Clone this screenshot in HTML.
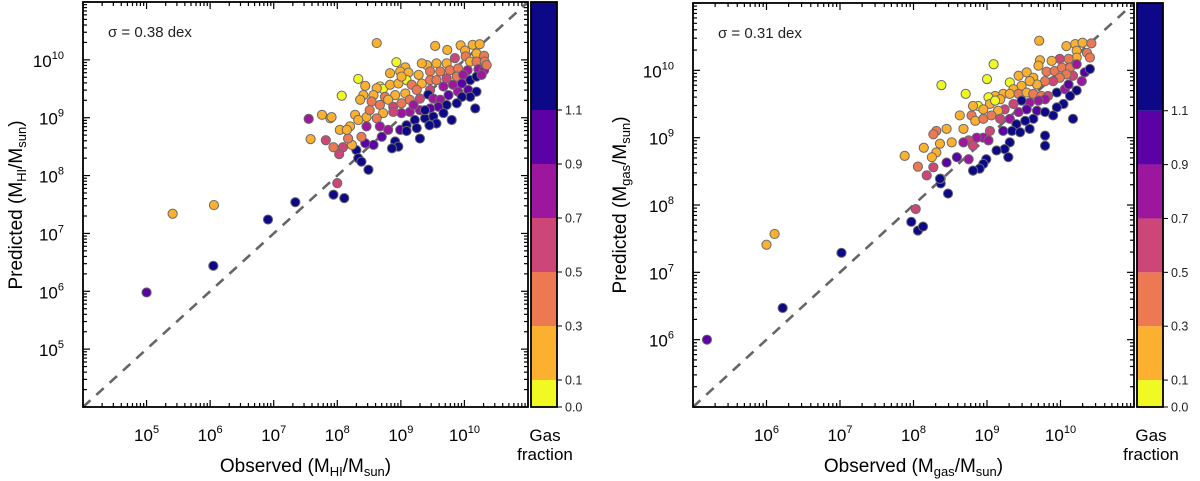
<!DOCTYPE html>
<html><head><meta charset="utf-8"><title>Predicted vs Observed gas mass</title>
<style>
html,body{margin:0;padding:0;background:#fff;}
svg{display:block;font-family:"Liberation Sans",Arial,sans-serif;}
</style></head>
<body>
<svg id="fig" width="1200" height="481" viewBox="0 0 1200 481"></svg>
<script>
// ---- Data (log10 masses) ----
const hiObs = [5.0,5.41,6.06,6.05,6.91,7.34,7.94,8.0,8.11,7.55,7.76,7.58,7.82,7.89,
8.62,9.54,9.73,9.94,10.13,10.24,10.01,10.19,10.31,9.85,10.02,10.09,10.19,10.32,9.72,9.56,9.41,9.33,8.93,9.07,8.99,9.12,8.83,9.28,9.46,9.62,9.77,9.90,10.05,10.22,10.31,10.35,
8.33,8.44,8.67,8.72,8.62,8.83,8.96,9.09,9.01,9.17,9.33,9.46,9.56,9.72,9.88,9.98,10.09,10.19,10.27,9.96,9.82,9.67,9.46,9.25,9.07,8.91,8.75,8.57,8.41,8.07,
8.36,8.54,8.67,8.80,8.88,9.01,9.14,9.30,9.43,9.51,9.62,9.75,9.90,10.06,10.19,10.09,9.96,9.88,9.72,9.59,9.46,9.30,9.14,9.01,8.88,8.72,8.62,8.46,8.28,8.20,8.33,8.04,7.91,
8.46,8.67,8.80,8.99,9.09,9.22,9.38,9.51,9.67,9.80,10.17,9.25,9.30,9.09,8.91,8.96,8.86,8.70,8.57,8.44,8.38,8.30,8.33,8.38,8.49,8.23,8.17,8.09,8.03,7.94,8.15,8.51,9.20,9.56,9.45,9.38];
const hiPred = [5.98,7.34,7.49,6.44,7.24,7.54,7.67,7.87,7.61,8.98,9.05,8.63,8.61,8.99,
10.29,10.24,10.17,10.25,10.26,10.27,10.16,10.11,10.07,10.03,10.06,9.97,9.97,9.97,9.94,9.94,9.91,9.94,9.96,9.87,9.80,9.78,9.77,9.74,9.80,9.80,9.82,9.85,9.82,9.84,9.82,9.91,
9.67,9.55,9.54,9.50,9.51,9.57,9.59,9.65,9.71,9.57,9.59,9.65,9.65,9.68,9.71,9.74,9.65,9.71,9.74,9.59,9.57,9.54,9.48,9.48,9.42,9.39,9.36,9.39,9.39,9.38,
9.31,9.28,9.22,9.31,9.19,9.25,9.31,9.33,9.40,9.33,9.31,9.39,9.45,9.48,9.45,9.36,9.36,9.25,9.22,9.19,9.16,9.13,9.10,9.08,9.10,9.08,8.99,9.01,9.05,8.85,8.96,8.79,9.01,
8.85,8.85,8.79,8.79,8.87,8.96,8.99,9.02,9.08,8.96,9.16,8.82,8.64,8.77,8.59,8.50,8.47,8.67,8.53,8.56,8.67,8.44,8.30,8.24,8.10,8.53,8.64,8.49,8.37,8.49,8.79,9.13,9.22,8.90,8.87,9.13];
const hiFrac = [1.0,0.2,0.2,1.3,1.3,1.3,1.3,0.6,1.3,0.8,0.2,0.2,0.6,0.2,
0.2,0.2,0.2,0.2,0.2,0.2,0.2,0.2,0.4,0.6,0.4,0.2,0.4,0.4,0.2,0.2,0.2,0.2,0.05,0.2,0.2,0.2,0.2,0.2,0.4,0.4,0.4,0.4,0.8,0.8,0.8,0.4,
0.05,0.2,0.05,0.05,0.2,0.2,0.2,0.05,0.2,0.4,0.2,0.4,0.4,0.6,0.4,0.8,1.3,1.3,0.8,1.0,0.8,0.8,0.6,0.4,0.2,0.2,0.4,0.2,0.2,0.05,
0.2,0.4,0.4,0.2,0.6,0.4,0.4,0.6,1.3,0.8,0.8,1.0,0.8,1.0,1.3,1.3,1.3,1.3,1.3,1.0,1.0,0.8,0.8,0.8,0.6,0.2,0.4,0.2,0.2,0.2,0.2,0.2,0.2,
0.8,0.8,0.8,1.0,1.3,1.3,1.3,1.3,1.3,1.3,1.3,1.3,1.3,1.3,1.3,1.3,1.3,1.0,1.0,1.0,0.4,1.3,1.3,1.3,1.3,0.2,0.4,0.6,0.6,0.4,0.2,0.4,0.8,1.3,1.3,1.3];

const gasObs = [5.19,6.0,6.11,6.22,7.02,7.97,8.06,8.13,8.03,8.47,8.37,8.37,7.88,8.06,8.18,8.14,
9.71,10.08,10.20,10.30,10.42,10.22,10.36,10.22,10.40,10.11,9.99,9.88,9.72,9.70,9.09,9.00,8.71,8.38,9.31,9.43,9.54,9.63,9.81,9.92,10.02,10.13,10.22,10.33,10.40,10.29,
10.17,10.08,9.99,9.90,9.79,9.68,9.58,9.47,9.36,9.22,9.11,9.02,8.88,9.18,9.31,9.43,9.54,9.63,9.74,9.83,9.95,10.06,10.11,10.22,10.13,10.04,9.95,9.90,10.17,9.79,
9.70,9.58,9.47,9.36,9.24,9.15,9.04,8.95,8.81,8.79,8.84,8.95,9.06,9.18,9.31,9.43,9.54,9.68,9.79,9.63,9.52,9.40,9.58,9.34,9.22,9.45,9.79,9.79,9.31,9.24,
9.13,9.29,9.04,8.95,8.86,8.75,8.68,8.81,9.02,8.68,8.63,8.52,8.45,8.31,8.27,8.36,8.31,8.25,8.59,8.45,8.75,8.27,8.99,8.95,8.90,8.81,8.36,9.11];
const gasPred = [6.0,7.41,7.57,6.47,7.29,7.75,7.62,7.68,7.94,8.17,8.32,8.39,8.73,8.57,8.44,8.85,
10.44,10.36,10.39,10.41,10.40,10.29,10.26,10.19,10.19,10.17,10.17,10.14,10.15,10.07,10.09,9.87,9.65,9.78,9.82,9.92,9.97,9.89,9.98,9.99,10.04,10.04,10.09,9.97,10.02,9.84,
9.92,9.94,9.89,9.84,9.84,9.79,9.84,9.77,9.72,9.65,9.62,9.60,9.47,9.57,9.65,9.65,9.67,9.65,9.62,9.62,9.67,9.72,9.79,9.70,9.62,9.50,9.45,9.33,9.28,9.57,
9.55,9.52,9.55,9.50,9.42,9.40,9.50,9.42,9.47,9.33,9.25,9.28,9.33,9.28,9.28,9.38,9.42,9.40,9.38,9.28,9.25,9.20,9.13,9.10,9.10,9.08,9.03,8.88,8.93,8.83,
8.81,8.71,9.10,9.00,9.00,8.96,8.93,8.88,8.96,9.13,9.33,8.93,9.13,9.10,9.05,8.91,8.78,8.71,8.71,8.63,8.68,8.56,8.68,8.61,8.54,8.51,8.39,9.55];
const gasFrac = [1.0,0.2,0.2,1.3,1.3,1.3,1.3,1.3,0.6,1.3,1.3,1.3,0.2,0.4,0.6,0.2,
0.2,0.2,0.2,0.2,0.4,0.2,0.4,0.2,0.4,0.4,0.6,0.2,0.2,0.2,0.05,0.05,0.05,0.05,0.05,0.2,0.2,0.2,0.4,0.4,0.4,0.4,0.8,1.0,1.3,0.8,
0.6,0.4,0.4,0.6,0.4,0.2,0.2,0.2,0.2,0.2,0.2,0.05,0.05,0.2,0.2,0.4,0.2,0.4,0.4,0.6,1.3,0.8,1.0,1.3,1.3,1.3,1.3,1.3,1.3,0.8,
0.8,0.8,1.3,0.6,0.6,0.2,0.2,0.2,0.2,0.4,0.2,0.4,0.4,0.6,0.8,0.8,1.0,1.0,1.3,1.3,1.3,1.3,1.3,1.3,1.0,1.3,1.3,1.3,1.3,1.3,
1.3,1.3,0.6,0.8,0.8,0.6,0.8,0.6,0.8,0.2,0.2,0.2,0.2,0.4,0.4,0.2,0.2,0.2,1.0,1.0,0.8,0.6,1.3,1.3,1.3,1.3,1.3,0.05];

const cbBounds = [0.0,0.1,0.3,0.5,0.7,0.9,1.1,1.5];
const cbColors = ["#f0f921","#fcb02f","#ed7953","#cc4778","#9c179e","#5c01a6","#0d0887"];
const cbTicks = [0.0,0.1,0.3,0.5,0.7,0.9,1.1];

const NS = "http://www.w3.org/2000/svg";
const svg = document.getElementById("fig");
function mk(tag, attrs, parent) {
  const e = document.createElementNS(NS, tag);
  for (const k in attrs) e.setAttribute(k, attrs[k]);
  (parent || svg).appendChild(e);
  return e;
}
function colorOf(f) {
  for (let i = 0; i < cbColors.length; i++) if (f < cbBounds[i + 1]) return cbColors[i];
  return cbColors[cbColors.length - 1];
}

function panel(cfg) {
  const g = mk("g", {});
  
  
  const {x0, x1, y0, y1, lo, hiX, loY, hiY} = cfg;
  const sx = v => x0 + (v - lo) / (hiX - lo) * (x1 - x0);
  const sy = v => y1 - (v - loY) / (hiY - loY) * (y1 - y0);

  const tg = mk("g", {stroke: "#000", "stroke-width": 1.2}, g);
  
  
  for (let d = Math.floor(lo); d <= hiX; d++) {
    for (let k = 1; k <= 9; k++) {
      const v = d + Math.log10(k);
      if (v < lo - 1e-6 || v > hiX + 1e-6) continue;
      const L = k === 1 ? 7 : 4, x = sx(v);
      mk("line", {x1: x, x2: x, y1: y1, y2: y1 - L}, tg);
      mk("line", {x1: x, x2: x, y1: y0, y2: y0 + L}, tg);
    }
  }
  for (let d = Math.floor(loY); d <= hiY; d++) {
    for (let k = 1; k <= 9; k++) {
      const v = d + Math.log10(k);
      if (v < loY - 1e-6 || v > hiY + 1e-6) continue;
      const L = k === 1 ? 7 : 4, y = sy(v);
      mk("line", {x1: x0, x2: x0 + L, y1: y, y2: y}, tg);
      mk("line", {x1: x1, x2: x1 - L, y1: y, y2: y}, tg);
    }
  }
  cfg.xLabels.forEach(d => {
    const t = mk("text", {x: sx(d), y: 441, "text-anchor": "middle", "font-size": 17}, g);
    
    
    mk("tspan", {}, t).textContent = "10";
    mk("tspan", {dy: -8, "font-size": 11}, t).textContent = String(d);
  });
  cfg.yLabels.forEach(d => {
    const t = mk("text", {x: x0 - 19, y: sy(d) + 7, "text-anchor": "end", "font-size": 17}, g);
    
    
    mk("tspan", {}, t).textContent = "10";
    mk("tspan", {dy: -8, "font-size": 11}, t).textContent = String(d);
  });

  const a = Math.max(lo, loY), b = Math.min(hiX, hiY);
  const ln = mk("line", {x1: sx(a), y1: sy(a), x2: sx(b), y2: sy(b), stroke: "#666", "stroke-width": 2.6, "stroke-dasharray": "10,8"}, g);
  
  

  const pg = mk("g", {stroke: "#6a6a6a", "stroke-width": 1}, g);
  
  
  for (let i = 0; i < cfg.obs.length; i++) {
    const c = mk("circle", {cx: sx(cfg.obs[i]), cy: sy(cfg.pred[i]), r: 4.6, fill: colorOf(cfg.frac[i])}, pg);
    
    
  }

  const fr = mk("rect", {x: x0, y: y0, width: x1 - x0, height: y1 - y0, fill: "none", stroke: "#000", "stroke-width": 1.8}, g);
  
  

  const st = mk("text", {x: x0 + 25, y: y0 + 35, "font-size": 15, fill: "#222"}, g);
  
  
  st.textContent = cfg.sigma;

  const xt = mk("text", {x: (x0 + x1) / 2, y: 472, "text-anchor": "middle", "font-size": 19}, g);
  
  
  mk("tspan", {}, xt).textContent = "Observed (M";
  mk("tspan", {dy: 4, "font-size": 13}, xt).textContent = cfg.sub;
  mk("tspan", {dy: -4}, xt).textContent = "/M";
  mk("tspan", {dy: 4, "font-size": 13}, xt).textContent = "sun";
  mk("tspan", {dy: -4}, xt).textContent = ")";

  const yt = mk("text", {x: 0, y: 0, "text-anchor": "middle", "font-size": 19, transform: `translate(${cfg.yTitleX},205) rotate(-90)`}, g);
  
  
  mk("tspan", {}, yt).textContent = "Predicted (M";
  mk("tspan", {dy: 4, "font-size": 13}, yt).textContent = cfg.sub;
  mk("tspan", {dy: -4}, yt).textContent = "/M";
  mk("tspan", {dy: 4, "font-size": 13}, yt).textContent = "sun";
  mk("tspan", {dy: -4}, yt).textContent = ")";

  const cb = mk("g", {}, g);
  
  
  const cx0 = cfg.cbX, cw = 26, cyT = y0, cyB = y1;
  const cs = v => cyB - v / cbBounds[cbBounds.length - 1] * (cyB - cyT);
  for (let i = 0; i < cbColors.length; i++) {
    const r = mk("rect", {x: cx0, y: cs(cbBounds[i + 1]), width: cw, height: cs(cbBounds[i]) - cs(cbBounds[i + 1]), fill: cbColors[i]}, cb);
    
    
  }
  mk("rect", {x: cx0, y: cyT, width: cw, height: cyB - cyT, fill: "none", stroke: "#000", "stroke-width": 1.8}, cb);
  cbTicks.forEach(v => {
    mk("line", {x1: cx0 + cw, x2: cx0 + cw + 5, y1: cs(v), y2: cs(v), stroke: "#000", "stroke-width": 1}, cb);
    const t = mk("text", {x: cx0 + cw + 8, y: cs(v) + 4.5, "font-size": 12.5, fill: "#222"}, cb);
    
    
    t.textContent = v.toFixed(1);
  });
  const l1 = mk("text", {x: cx0 + cw / 2 + 1, y: 441, "text-anchor": "middle", "font-size": 17}, cb);
  
  
  l1.textContent = "Gas";
  const l2 = mk("text", {x: cx0 + cw / 2 + 1, y: 460, "text-anchor": "middle", "font-size": 17}, cb);
  
  
  l2.textContent = "fraction";
}

panel({name: "hi-mass-panel", x0: 83, x1: 528, y0: 2, y1: 407, lo: 4, hiX: 11, loY: 4, hiY: 11,
  xLabels: [5,6,7,8,9,10], yLabels: [5,6,7,8,9,10], obs: hiObs, pred: hiPred, frac: hiFrac,
  sigma: "σ = 0.38 dex", sub: "HI", yTitleX: 22, cbX: 531});
panel({name: "gas-mass-panel", x0: 693, x1: 1134, y0: 3, y1: 407, lo: 5, hiX: 11, loY: 5, hiY: 11,
  xLabels: [6,7,8,9,10], yLabels: [6,7,8,9,10], obs: gasObs, pred: gasPred, frac: gasFrac,
  sigma: "σ = 0.31 dex", sub: "gas", yTitleX: 626, cbX: 1137});
</script>
</body></html>
